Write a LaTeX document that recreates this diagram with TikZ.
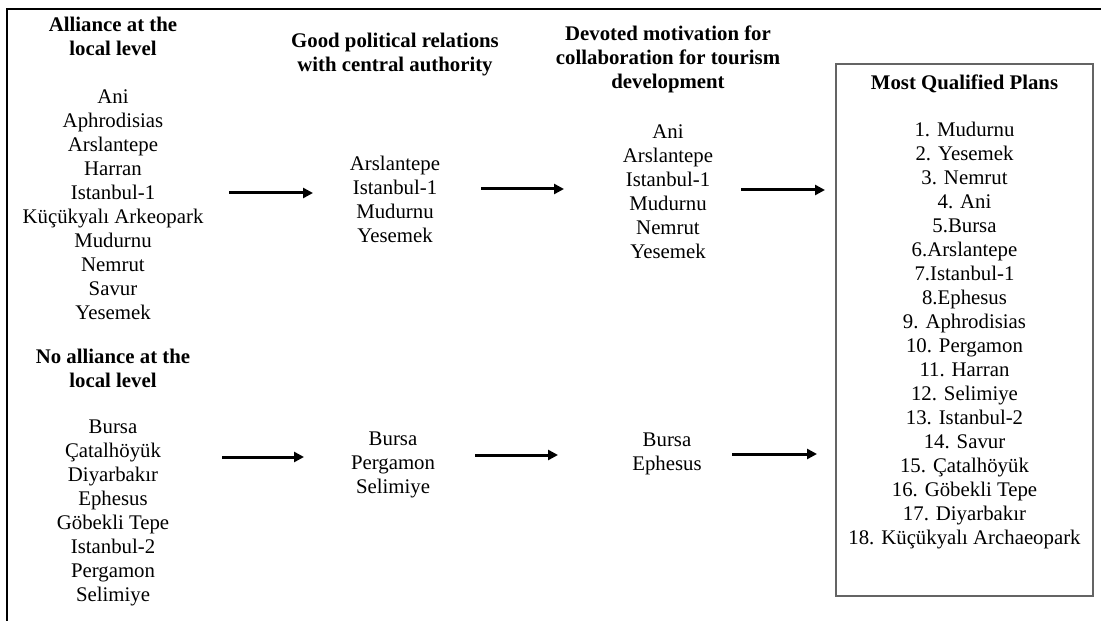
\documentclass[tikz,border=0pt]{standalone}
\usepackage{fontspec}
\setmainfont{Liberation Serif}
\usetikzlibrary{arrows.meta}
\definecolor{boxgray}{RGB}{100,100,100}
\begin{document}
\begin{tikzpicture}[x=1bp,y=-1bp,
  every node/.style={inner sep=0pt, align=center,
    font=\fontsize{20.8bp}{24bp}\selectfont},
  heading/.style={font=\fontsize{20.8bp}{24bp}\selectfont\bfseries},
  flow/.style={line width=3bp, -{Triangle[length=10bp,width=10bp]}}]
\useasboundingbox (0,0) rectangle (1101,621);

% outer frame (top and left edges)
\draw[line width=2bp] (1101,9) -| (7,621);

% column 1: local alliance
\node[heading] (h1a) at (113,36.5) {Alliance at the\\local level};
\node (l1a) at (113,205) {Ani\\Aphrodisias\\Arslantepe\\Harran\\Istanbul-1\\Küçükyalı Arkeopark\\Mudurnu\\Nemrut\\Savur\\Yesemek};
\node[heading] (h1b) at (113,368.5) {No alliance at the\\local level};
\node (l1b) at (113,513) {Bursa\\Çatalhöyük\\Diyarbakır\\Ephesus\\Göbekli Tepe\\Istanbul-2\\Pergamon\\Selimiye};

% column 2: political relations
\node[heading] (h2) at (395,55) {Good political relations\\with central authority};
\node (l2a) at (395,199.5) {Arslantepe\\Istanbul-1\\Mudurnu\\Yesemek};
\node (l2b) at (393,465) {Bursa\\Pergamon\\Selimiye};

% column 3: motivation
\node[heading] (h3) at (668,59.5) {Devoted motivation for\\collaboration for tourism\\development};
\node (l3a) at (668,192) {Ani\\Arslantepe\\Istanbul-1\\Mudurnu\\Nemrut\\Yesemek};
\node (l3b) at (667,454) {Bursa\\Ephesus};

% ranking box
\node[draw=boxgray, line width=1.6bp, minimum width=257bp, minimum height=532bp] (plans) at (964.5,330) {};
\node[heading] (hp) at (964.5,84) {Most Qualified Plans};
\node (lp) at (964.5,336) {1. Mudurnu\\2. Yesemek\\3. Nemrut\\4. Ani\\5.Bursa\\6.Arslantepe\\7.Istanbul-1\\8.Ephesus\\9. Aphrodisias\\10. Pergamon\\11. Harran\\12. Selimiye\\13. Istanbul-2\\14. Savur\\15. Çatalhöyük\\16. Göbekli Tepe\\17. Diyarbakır\\18. Küçükyalı Archaeopark};

% arrow end points
\coordinate (a1s) at (229,193); \coordinate (a1e) at (313,193);
\coordinate (a2s) at (481,189); \coordinate (a2e) at (564,189);
\coordinate (a3s) at (741,190); \coordinate (a3e) at (825,190);
\coordinate (b1s) at (222,457); \coordinate (b1e) at (304,457);
\coordinate (b2s) at (475,455); \coordinate (b2e) at (558,455);
\coordinate (b3s) at (732,454); \coordinate (b3e) at (817,454);

\draw[flow] (a1s) -- (a1e);
\draw[flow] (a2s) -- (a2e);
\draw[flow] (a3s) -- (a3e);
\draw[flow] (b1s) -- (b1e);
\draw[flow] (b2s) -- (b2e);
\draw[flow] (b3s) -- (b3e);
\end{tikzpicture}
\end{document}
